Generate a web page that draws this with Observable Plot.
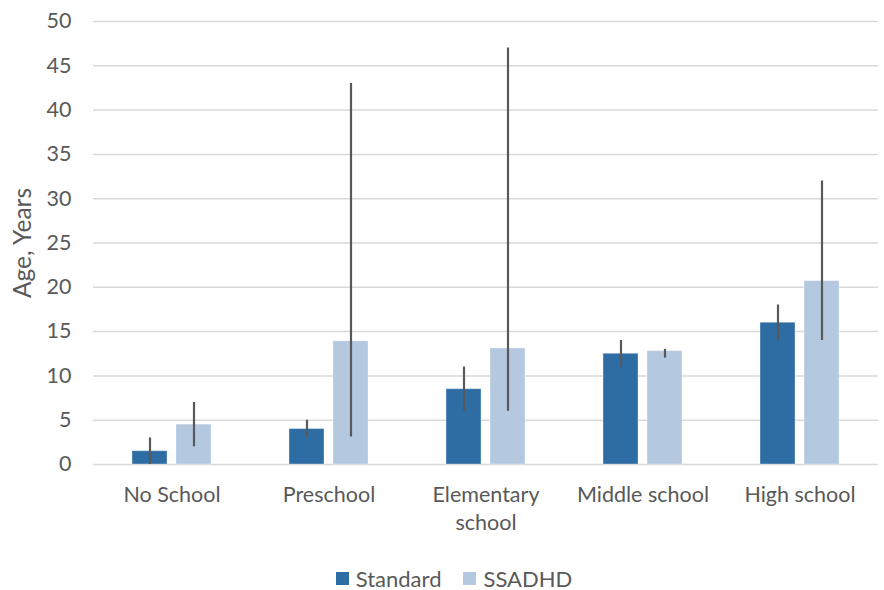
<!DOCTYPE html>
<html>
<head>
<meta charset="utf-8">
<script src="https://cdn.jsdelivr.net/npm/d3@7"></script>
<script src="https://cdn.jsdelivr.net/npm/@observablehq/plot@0.6"></script>
<style>
  html, body { margin: 0; padding: 0; background: #fff; }
  #chart svg { display: block; }
  #chart svg text { font-size: 21.5px; }
  #chart svg g[aria-label="y-axis label"] text { font-size: 24.5px; }
  .legend {
    display: flex; justify-content: center; align-items: center;
    margin-top: 6px; height: 24px; padding-left: 24px;
    font-family: Lato, sans-serif; font-size: 22px; color: #595959;
  }
  .legend .item { display: flex; align-items: center; margin: 0 11px; }
  .legend .sw { width: 13px; height: 13px; margin-right: 7px; }
</style>
</head>
<body>
<div id="chart"></div>
<script>
// Education level categories and their axis labels
const categories = ["No School", "Preschool", "Elementary school", "Middle school", "High school"];
const tickLabels = ["No School", "Preschool", "Elementary\nschool", "Middle school", "High school"];
const series = ["Standard", "SSADHD"];
const colors = ["#2E6CA4", "#B4C8E0"];

// Mean age and range per category
const standardValues = [1.5, 4, 8.5, 12.5, 16];
const standardLow = [0, 3, 6, 11, 14];
const standardHigh = [3, 5, 11, 14, 18];
const ssadhdValues = [4.5, 13.9, 13.1, 12.8, 20.7];
const ssadhdLow = [2, 3.1, 6, 12, 14];
const ssadhdHigh = [7, 43, 47, 13, 32];

const yTicks = [0, 5, 10, 15, 20, 25, 30, 35, 40, 45, 50];

const rows = [];
categories.forEach((c, i) => {
  rows.push({category: c, series: "Standard", value: standardValues[i], low: standardLow[i], high: standardHigh[i]});
  rows.push({category: c, series: "SSADHD", value: ssadhdValues[i], low: ssadhdLow[i], high: ssadhdHigh[i]});
});

const chart = Plot.plot({
  width: 884,
  height: 560,
  marginTop: 21,
  marginBottom: 96,
  marginLeft: 92,
  marginRight: 5,
  style: {fontFamily: "Lato, sans-serif", fontSize: "21.5px", color: "#595959", background: "#fff"},
  fx: {domain: categories, padding: 0, label: null, tickSize: 0, tickPadding: 22,
       tickFormat: d => tickLabels[categories.indexOf(d)]},
  x: {domain: series, paddingInner: 0.21, paddingOuter: 0.854, axis: null},
  y: {domain: [0, 50], ticks: yTicks, tickSize: 0, tickPadding: 22,
      label: "Age, Years", labelAnchor: "center", labelArrow: "none", labelOffset: 80},
  color: {domain: series, range: colors},
  marks: [
    Plot.gridY(yTicks, {stroke: "#d9d9d9", strokeOpacity: 1, strokeWidth: 1.5}),
    Plot.barY(rows, {fx: "category", x: "series", y: "value", fill: "series",
                     stroke: "#ffffff", strokeOpacity: 0.35, strokeWidth: 1}),
    Plot.ruleX(rows, {fx: "category", x: "series", y1: "low", y2: "high",
                      stroke: "#595959", strokeWidth: 2.2})
  ]
});

// fx axis tick labels: spread wrapped lines apart
chart.querySelectorAll("text").forEach(t => {
  const spans = t.querySelectorAll("tspan");
  if (spans.length > 1) spans.forEach((s, k) => { if (k > 0) s.setAttribute("dy", "1.3em"); });
});

document.getElementById("chart").appendChild(chart);

const legend = document.createElement("div");
legend.className = "legend";
series.forEach((s, i) => {
  const item = document.createElement("div");
  item.className = "item";
  const sw = document.createElement("div");
  sw.className = "sw";
  sw.style.background = colors[i];
  const lab = document.createElement("span");
  lab.textContent = s;
  item.appendChild(sw);
  item.appendChild(lab);
  legend.appendChild(item);
});
document.getElementById("chart").appendChild(legend);
</script>
</body>
</html>
